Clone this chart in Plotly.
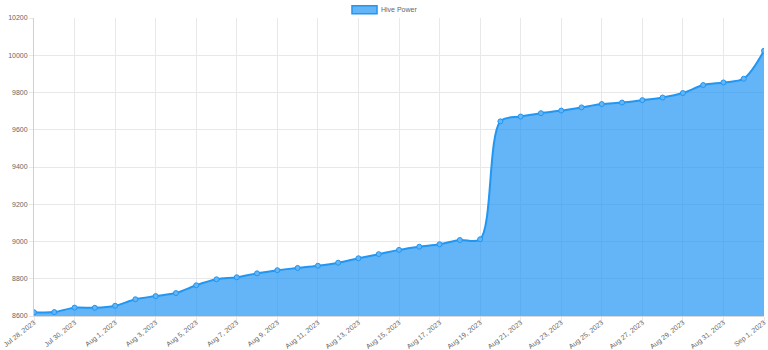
import datetime as dt
import plotly.graph_objects as go

# Dates (one reading per day, with a second reading on the last day)
start = dt.date(2023, 7, 28)
dates = [start + dt.timedelta(days=k) for k in range(36)]
dates.insert(35, dt.date(2023, 9, 1))
labels = [f"{d.strftime('%b')} {d.day}, {d.year}" for d in dates]

hive_power = [
    8620, 8621, 8645, 8644, 8655, 8690, 8707, 8723, 8765, 8797,
    8808, 8829, 8846, 8858, 8870, 8886, 8910, 8932, 8955, 8972,
    8985, 9008, 9012, 9645, 9671, 9689, 9703, 9720, 9738, 9746,
    9759, 9773, 9797, 9840, 9854, 9874, 10024,
]

series_name = "Hive Power"
y_ticks = [8600, 8800, 9000, 9200, 9400, 9600, 9800, 10000, 10200]

x = list(range(len(labels)))
tick_idx = list(range(0, len(labels), 2))

LINE = "#2196F3"
FILL = "rgba(33,150,243,0.7)"
GRID = "#e8e8e8"
TXT = "#666666"
FONT = "Liberation Sans"

fig = go.Figure()
fig.add_trace(go.Scatter(
    x=x, y=hive_power, name=series_name, mode="lines+markers",
    line=dict(color=LINE, width=2, shape="spline", smoothing=0.9),
    fill="tozeroy", fillcolor=FILL,
    marker=dict(size=5, color="#64B5F6", line=dict(color=LINE, width=1)),
    showlegend=False, hoverinfo="x+y",
))

fig.update_layout(
    width=768, height=350,
    margin=dict(l=34, r=4, t=18, b=34),
    paper_bgcolor="white", plot_bgcolor="white",
    font=dict(family=FONT, size=7, color=TXT),
    xaxis=dict(
        range=[0, len(labels) - 1], automargin=False,
        tickmode="array", tickvals=[x[i] for i in tick_idx],
        ticktext=[labels[i] for i in tick_idx],
        tickangle=-38, showgrid=True, gridcolor=GRID, gridwidth=1,
        ticks="outside", ticklen=4, tickcolor=GRID,
        ticklabelstandoff=-5,
        showline=True, linecolor="#d9d9d9", linewidth=1,
        zeroline=False, tickfont=dict(size=7, color=TXT, family=FONT),
    ),
    yaxis=dict(
        range=[y_ticks[0], y_ticks[-1]], automargin=False,
        tickmode="array", tickvals=y_ticks,
        ticktext=[str(v) for v in y_ticks],
        showgrid=True, gridcolor=GRID, gridwidth=1,
        ticks="outside", ticklen=4, tickcolor=GRID,
        showline=True, linecolor="#d0d0d0", linewidth=1,
        zeroline=False, tickfont=dict(size=7, color=TXT, family=FONT),
    ),
    shapes=[dict(
        type="rect", xref="paper", yref="paper",
        x0=0.4356, x1=0.4699, y0=1.0144, y1=1.0413,
        fillcolor=FILL, line=dict(color=LINE, width=1.5),
    )],
    annotations=[dict(
        text=series_name, xref="paper", yref="paper",
        x=0.4726, y=1.0279, xanchor="left", yanchor="middle",
        showarrow=False, font=dict(size=7, color=TXT, family=FONT),
    )],
)

fig.write_html("out.html")
